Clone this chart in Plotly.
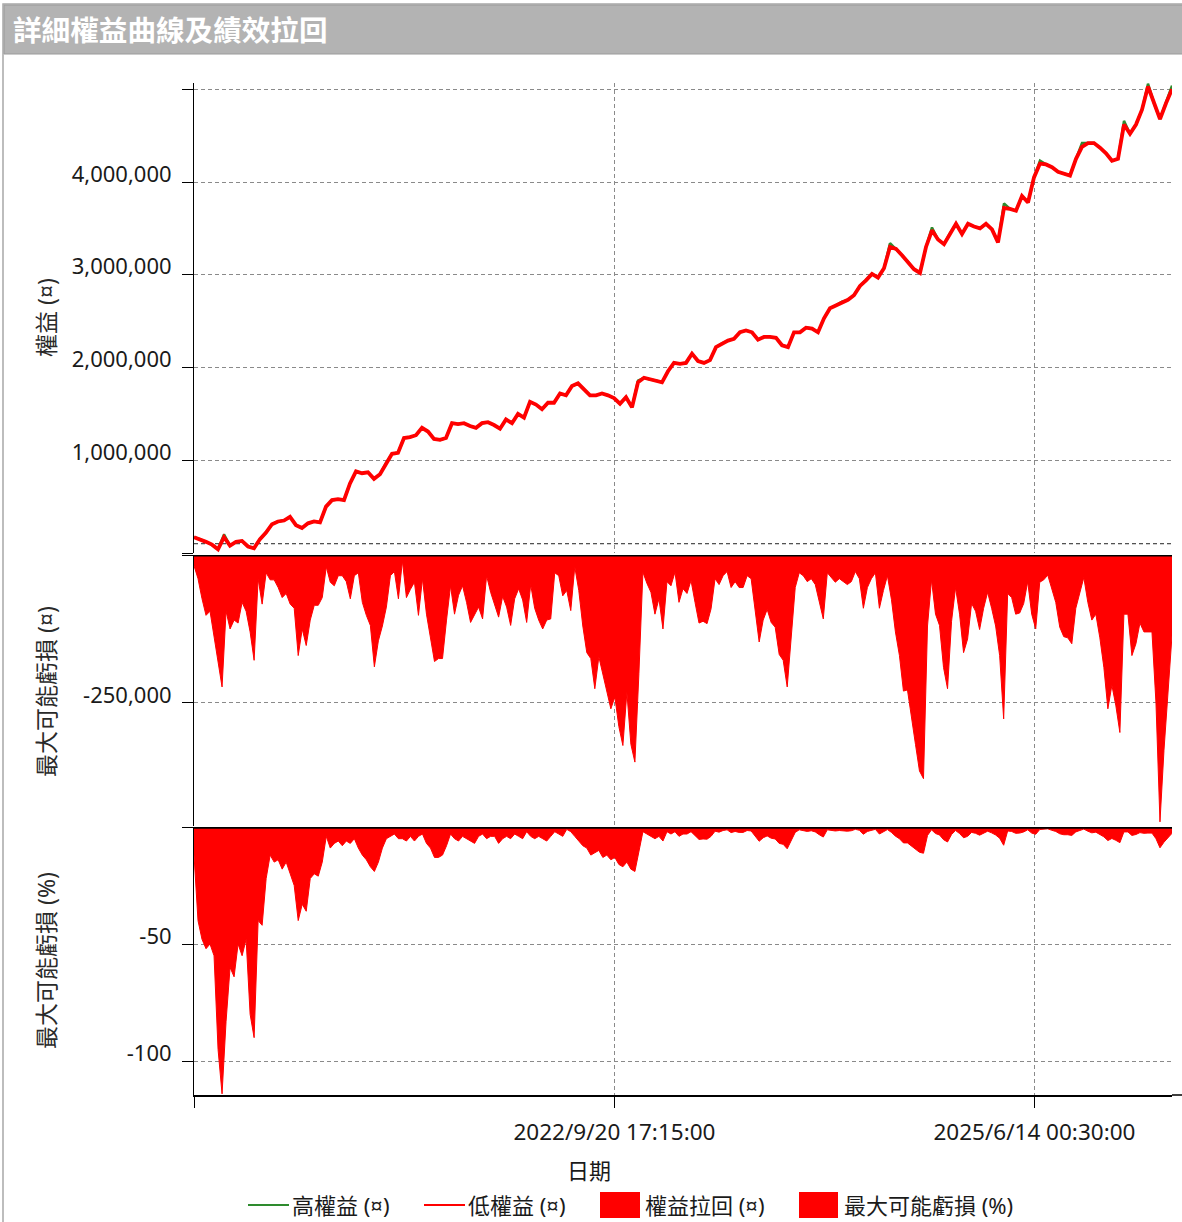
import pandas as pd
import plotly.graph_objects as go

# ---------------- data ----------------
START = "2019-12-27 10:00"
END = "2026-05-06 17:00"
TICK_DATES = ["2019-12-27 10:00", "2022-09-20 17:15", "2025-06-14 00:30"]
TICK_TEXT = ["", "2022/9/20 17:15:00", "2025/6/14 00:30:00"]
INITIAL_CAPITAL = 100000

EQUITY_LOW = [
    170000, 150000, 120000, 90000, 40000, 170000, 80000, 120000, 130000, 70000,
    50000, 150000, 220000, 310000, 340000, 350000, 390000, 300000, 270000, 320000,
    340000, 330000, 500000, 570000, 580000, 570000, 750000, 880000, 860000, 870000,
    800000, 850000, 970000, 1070000, 1080000, 1240000, 1250000, 1270000, 1350000, 1310000,
    1230000, 1220000, 1240000, 1400000, 1390000, 1400000, 1370000, 1350000, 1400000, 1410000,
    1380000, 1340000, 1440000, 1400000, 1500000, 1460000, 1630000, 1600000, 1550000, 1620000,
    1620000, 1720000, 1700000, 1800000, 1830000, 1760000, 1700000, 1700000, 1720000, 1700000,
    1670000, 1610000, 1680000, 1570000, 1840000, 1890000, 1870000, 1860000, 1840000, 1960000,
    2050000, 2040000, 2050000, 2150000, 2070000, 2050000, 2080000, 2220000, 2260000, 2290000,
    2310000, 2380000, 2400000, 2380000, 2300000, 2330000, 2330000, 2320000, 2240000, 2220000,
    2380000, 2380000, 2430000, 2420000, 2380000, 2530000, 2640000, 2670000, 2710000, 2730000,
    2780000, 2880000, 2940000, 3010000, 2970000, 3070000, 3300000, 3280000, 3210000, 3140000,
    3060000, 3020000, 3300000, 3480000, 3380000, 3330000, 3450000, 3550000, 3440000, 3550000,
    3520000, 3500000, 3550000, 3490000, 3350000, 3720000, 3710000, 3690000, 3850000, 3780000,
    4050000, 4200000, 4190000, 4160000, 4110000, 4090000, 4070000, 4250000, 4380000, 4420000,
    4420000, 4370000, 4310000, 4230000, 4250000, 4620000, 4520000, 4620000, 4780000, 5030000,
    4850000, 4680000, 4850000, 5000000,
]

EQUITY_HIGH = [
    170000, 150000, 120000, 90000, 40000, 200000, 80000, 120000, 130000, 70000,
    50000, 150000, 220000, 310000, 340000, 350000, 390000, 300000, 270000, 320000,
    340000, 330000, 500000, 570000, 580000, 570000, 750000, 880000, 860000, 870000,
    800000, 850000, 970000, 1070000, 1080000, 1240000, 1250000, 1270000, 1350000, 1310000,
    1230000, 1220000, 1240000, 1400000, 1390000, 1400000, 1370000, 1350000, 1400000, 1410000,
    1380000, 1340000, 1440000, 1400000, 1500000, 1460000, 1630000, 1600000, 1550000, 1620000,
    1620000, 1720000, 1700000, 1800000, 1830000, 1760000, 1700000, 1700000, 1720000, 1700000,
    1670000, 1610000, 1680000, 1570000, 1860000, 1890000, 1870000, 1860000, 1840000, 1960000,
    2050000, 2040000, 2050000, 2150000, 2070000, 2050000, 2080000, 2220000, 2260000, 2290000,
    2310000, 2380000, 2400000, 2380000, 2300000, 2330000, 2330000, 2320000, 2240000, 2220000,
    2380000, 2380000, 2430000, 2420000, 2380000, 2530000, 2640000, 2670000, 2710000, 2730000,
    2780000, 2880000, 2940000, 3010000, 2970000, 3070000, 3340000, 3280000, 3210000, 3140000,
    3060000, 3020000, 3300000, 3510000, 3380000, 3330000, 3450000, 3550000, 3440000, 3550000,
    3520000, 3500000, 3550000, 3490000, 3350000, 3770000, 3710000, 3690000, 3850000, 3780000,
    4050000, 4230000, 4190000, 4160000, 4110000, 4090000, 4070000, 4250000, 4420000, 4420000,
    4420000, 4370000, 4310000, 4230000, 4250000, 4660000, 4520000, 4620000, 4780000, 5060000,
    4850000, 4680000, 4850000, 5040000,
]

DRAWDOWN = [  # 權益拉回 (¤)
    -18000, -40000, -74000, -102000, -95000, -140000, -185000, -223000, -95000, -125000,
    -110000, -115000, -80000, -95000, -130000, -178000, -40000, -83000, -30000, -42000,
    -42000, -55000, -72000, -65000, -83000, -90000, -170000, -125000, -153000, -110000,
    -85000, -85000, -72000, -20000, -46000, -52000, -35000, -35000, -45000, -74000,
    -35000, -30000, -80000, -102000, -119000, -189000, -145000, -120000, -88000, -35000,
    -28000, -74000, -10000, -72000, -58000, -46000, -102000, -40000, -100000, -140000,
    -180000, -175000, -175000, -110000, -52000, -100000, -68000, -52000, -80000, -114000,
    -100000, -88000, -108000, -35000, -63000, -85000, -105000, -70000, -88000, -119000,
    -74000, -57000, -76000, -114000, -50000, -90000, -110000, -125000, -110000, -108000,
    -30000, -35000, -69000, -60000, -94000, -20000, -60000, -120000, -165000, -175000,
    -226000, -172000, -200000, -232000, -260000, -240000, -290000, -322000, -232000, -320000,
    -350000, -200000, -29000, -48000, -63000, -100000, -74000, -125000, -45000, -52000,
    -29000, -80000, -57000,
    -65000, -43000, -80000, -115000, -112000, -116000, -91000, -40000, -50000, -35000,
    -28000, -55000, -45000, -55000, -55000, -35000, -40000, -95000, -147000, -110000,
    -92000, -114000, -122000, -168000, -178000, -223000, -140000, -55000, -30000, -35000,
    -45000, -40000, -50000, -80000, -108000, -30000, -38000, -46000, -40000, -45000,
    -50000, -45000, -28000, -40000, -90000, -55000, -40000, -30000, -90000, -60000,
    -35000, -75000, -130000, -170000, -230000, -228000, -277000, -320000, -365000, -378000,
    -120000, -42000, -100000, -119000, -190000, -226000, -112000, -55000, -100000, -165000,
    -142000, -82000, -95000, -126000, -90000, -63000, -90000, -120000, -170000, -277000,
    -65000, -72000, -100000, -98000, -82000, -45000, -100000, -125000, -46000, -42000,
    -34000, -57000, -80000, -122000, -138000, -140000, -150000, -90000, -62000, -38000,
    -80000, -110000, -100000, -140000, -190000, -260000, -220000, -255000, -300000, -100000,
    -100000, -170000, -150000, -115000, -130000, -130000, -130000, -250000, -451000, -330000,
    -230000, -136000,
]

DRAWDOWN_PCT = [  # 最大可能虧損 (%)
    -12, -40, -48, -52, -50, -55, -95, -114, -83, -60,
    -64, -50, -55, -48, -80, -90, -40, -42, -22, -12,
    -15, -14, -18, -15, -20, -25, -40, -33, -36, -22,
    -20, -21, -15, -4, -9, -7, -6, -8, -6, -7,
    -5, -9, -12, -14, -17, -19, -15, -9, -5, -4,
    -3, -5, -5, -6, -4, -6, -4, -3, -7, -9,
    -13, -13, -12, -8, -3, -5, -6, -4, -5, -6,
    -7, -4, -3, -5, -4, -4, -7, -5, -4, -5,
    -3, -4, -5, -2, -4, -5, -4, -5, -6, -4,
    -2, -3, -4, -1, -2, -4, -6, -8, -9, -12,
    -11, -10, -13, -12, -14, -13, -16, -17, -15, -18,
    -19, -11, -2, -3, -4, -5, -4, -6, -2, -3,
    -2, -4, -3,
    -3.0, -2.0, -3.7, -5.3, -5.1, -5.2, -4.0, -1.8, -2.2, -1.5,
    -1.2, -2.4, -1.9, -2.3, -2.3, -1.5, -1.7, -4.0, -6.1, -4.6,
    -3.8, -4.8, -5.1, -7.0, -7.4, -9.3, -5.8, -2.3, -1.2, -1.4,
    -1.9, -1.6, -2.1, -3.3, -4.3, -1.2, -1.4, -1.7, -1.5, -1.7,
    -1.8, -1.6, -1.0, -1.4, -3.1, -1.9, -1.3, -1.0, -3.0, -2.0,
    -1.1, -2.3, -3.9, -5.0, -6.8, -6.8, -8.2, -9.5, -10.8, -11.2,
    -3.6, -1.2, -2.8, -3.4, -5.4, -6.4, -3.2, -1.5, -2.8, -4.6,
    -4.0, -2.3, -2.7, -3.5, -2.5, -1.8, -2.5, -3.4, -4.8, -7.8,
    -1.7, -1.9, -2.7, -2.6, -2.1, -1.2, -2.6, -3.1, -1.1, -1.0,
    -0.8, -1.4, -1.9, -2.9, -3.3, -3.3, -3.6, -2.1, -1.4, -0.9,
    -1.8, -2.5, -2.2, -3.1, -4.2, -5.8, -4.9, -5.7, -6.7, -2.1,
    -2.1, -3.6, -3.2, -2.4, -2.7, -2.6, -2.6, -5.0, -8.9, -6.5,
    -4.6, -2.7,
]

EQ_TICKS = [0, 1000000, 2000000, 3000000, 4000000, 5000000]
EQ_TICKTEXT = ["", "1,000,000", "2,000,000", "3,000,000", "4,000,000", ""]
DD_TICKS = [0, -250000]
DD_TICKTEXT = ["", "-250,000"]
PCT_TICKS = [0, -50, -100]
PCT_TICKTEXT = ["", "-50", "-100"]

TITLE = "詳細權益曲線及績效拉回"
LEGEND_NAMES = ["高權益 (¤)", "低權益 (¤)", "權益拉回 (¤)", "最大可能虧損 (%)"]

# ---------------- figure ----------------
W, H = 1182, 1222
FONT = "Noto Sans, Noto Sans CJK TC, sans-serif"
TXT = "#1a1a1a"
RED = "#ff0000"
GREEN = "#2e8b2e"
GRID = "#8a8a8a"


def px(x):
    return x / W


def py(y):
    return 1 - y / H


eq_x = pd.date_range(START, END, periods=len(EQUITY_LOW))
dd_x = pd.date_range(START, END, periods=len(DRAWDOWN))
pct_x = pd.date_range(START, END, periods=len(DRAWDOWN_PCT))

fig = go.Figure()
fig.add_trace(go.Scatter(x=[START, END], y=[INITIAL_CAPITAL, INITIAL_CAPITAL], mode="lines",
                         line=dict(color="#222222", width=1, dash="4px,3px"),
                         xaxis="x", yaxis="y", showlegend=False, hoverinfo="skip"))
fig.add_trace(go.Scatter(x=eq_x, y=EQUITY_HIGH, mode="lines", name=LEGEND_NAMES[0],
                         line=dict(color=GREEN, width=2.5), xaxis="x", yaxis="y"))
fig.add_trace(go.Scatter(x=eq_x, y=EQUITY_LOW, mode="lines", name=LEGEND_NAMES[1],
                         line=dict(color=RED, width=3.8), xaxis="x", yaxis="y"))
fig.add_trace(go.Scatter(x=dd_x, y=DRAWDOWN, mode="lines", name=LEGEND_NAMES[2],
                         fill="tozeroy", fillcolor=RED, line=dict(color=RED, width=1),
                         xaxis="x2", yaxis="y2"))
fig.add_trace(go.Scatter(x=pct_x, y=DRAWDOWN_PCT, mode="lines", name=LEGEND_NAMES[3],
                         fill="tozeroy", fillcolor=RED, line=dict(color=RED, width=1),
                         xaxis="x3", yaxis="y3"))

xdom = [px(194), px(1172)]
common_x = dict(domain=xdom, type="date", range=[START, END], tickvals=TICK_DATES,
                showgrid=True, gridcolor=GRID, griddash="4px,3px", gridwidth=1,
                zeroline=False)
common_y = dict(showgrid=True, gridcolor=GRID, griddash="4px,3px", gridwidth=1,
                zeroline=False, ticks="outside", ticklen=11, tickcolor="black",
                showline=True, linecolor="black", linewidth=1,
                tickfont=dict(size=22, color=TXT, family=FONT), ticklabelstandoff=6,
                ticklabelshift=-8)

fig.update_layout(
    width=W, height=H, margin=dict(l=0, r=0, t=0, b=0),
    paper_bgcolor="white", plot_bgcolor="white", showlegend=False,
    font=dict(family=FONT, color=TXT),
    xaxis=dict(**common_x, anchor="y", showticklabels=False, ticks=""),
    xaxis2=dict(**common_x, anchor="y2", matches="x", showticklabels=False, ticks=""),
    xaxis3=dict(**common_x, anchor="y3", matches="x", ticktext=TICK_TEXT, ticks="outside",
                ticklen=11, tickcolor="black", showline=True, linecolor="black", linewidth=1.5,
                ticklabelstandoff=5,
                tickfont=dict(size=22.5, color=TXT, family=FONT)),
    yaxis=dict(**common_y, domain=[py(553), py(83)], range=[0, 5068000],
               tickvals=EQ_TICKS, ticktext=EQ_TICKTEXT, anchor="x"),
    yaxis2=dict(**common_y, domain=[py(826), py(555)], range=[-458000, 0],
                tickvals=DD_TICKS, ticktext=DD_TICKTEXT, anchor="x2"),
    yaxis3=dict(**common_y, domain=[py(1095), py(827)], range=[-114.5, 0],
                tickvals=PCT_TICKS, ticktext=PCT_TICKTEXT, anchor="x3"),
)

shapes = [
    # outer frame
    dict(type="rect", xref="paper", yref="paper", x0=px(3), x1=px(1190), y0=py(1230), y1=py(4),
         line=dict(color="#a8a8a8", width=1.5), fillcolor="rgba(0,0,0,0)", layer="below"),
    # title bar
    dict(type="rect", xref="paper", yref="paper", x0=px(4), x1=px(1190), y0=py(54), y1=py(5),
         line=dict(color="#9a9a9a", width=1), fillcolor="#b3b3b3", layer="below"),
    # zero lines (thick)
    dict(type="line", xref="x2 domain", yref="y2", x0=0, x1=1, y0=0, y1=0,
         line=dict(color="black", width=3)),
    dict(type="line", xref="x3 domain", yref="y3", x0=0, x1=1, y0=0, y1=0,
         line=dict(color="black", width=3.5)),
    # bottom axis extension to right edge
    dict(type="line", xref="paper", yref="paper", x0=px(1172), x1=px(1182), y0=py(1095), y1=py(1095),
         line=dict(color="black", width=1.5)),
    # manual legend symbols
    dict(type="line", xref="paper", yref="paper", x0=px(248), x1=px(289), y0=py(1205), y1=py(1205),
         line=dict(color=GREEN, width=2)),
    dict(type="line", xref="paper", yref="paper", x0=px(424), x1=px(465), y0=py(1205), y1=py(1205),
         line=dict(color=RED, width=2)),
    dict(type="rect", xref="paper", yref="paper", x0=px(600), x1=px(640), y0=py(1218), y1=py(1192),
         line=dict(color=RED, width=0), fillcolor=RED),
    dict(type="rect", xref="paper", yref="paper", x0=px(799), x1=px(838), y0=py(1218), y1=py(1192),
         line=dict(color=RED, width=0), fillcolor=RED),
]
fig.update_layout(shapes=shapes)

ann = []
ann.append(dict(text="<b>" + TITLE + "</b>", x=px(11), y=py(30), xref="paper", yref="paper",
                xanchor="left", yanchor="middle", showarrow=False,
                font=dict(size=28.6, color="white", family=FONT)))
for txt, yc in [("權益 (¤)", 318), ("最大可能虧損 (¤)", 692), ("最大可能虧損 (%)", 961)]:
    ann.append(dict(text=txt, x=px(46), y=py(yc), xref="paper", yref="paper",
                    xanchor="center", yanchor="middle", textangle=-90, showarrow=False,
                    font=dict(size=23, color="#2a2a2a", family=FONT)))
ann.append(dict(text="日期", x=px(589), y=py(1170), xref="paper", yref="paper",
                xanchor="center", yanchor="middle", showarrow=False,
                font=dict(size=22, color=TXT, family=FONT)))
for txt, xl in zip(LEGEND_NAMES, [290, 466, 643, 842]):
    ann.append(dict(text=txt, x=px(xl), y=py(1205), xref="paper", yref="paper",
                    xanchor="left", yanchor="middle", showarrow=False,
                    font=dict(size=22, color=TXT, family=FONT)))
fig.update_layout(annotations=ann)

fig.write_html("out.html")
